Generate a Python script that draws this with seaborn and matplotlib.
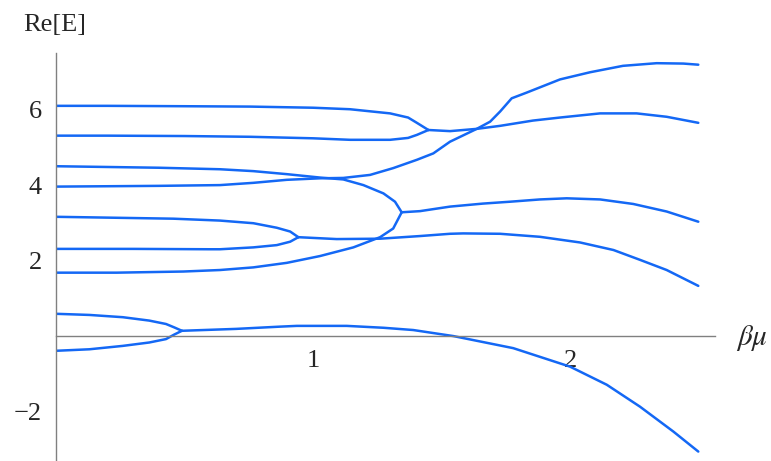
import pandas as pd
import numpy as np
import matplotlib
matplotlib.use("Agg")
import matplotlib.pyplot as plt
import seaborn as sns

sns.set_style("white")
plt.rcParams['font.family'] = ['Liberation Serif', 'DejaVu Serif']
plt.rcParams['mathtext.fontset'] = 'stix'

LINE_COLOR = '#1468f5'
AXIS_COLOR = '#808080'

# 各条能级分支 (beta*mu, Re[E])
top_upper_x = [0.0, 0.20, 0.50, 0.755, 1.00, 1.144, 1.30, 1.37, 1.404, 1.449]
top_upper_y = [6.11, 6.11, 6.10, 6.09, 6.06, 6.02, 5.91, 5.80, 5.66, 5.47]

top_lower_x = [0.0, 0.20, 0.50, 0.755, 1.00, 1.144, 1.30, 1.37, 1.404, 1.449]
top_lower_y = [5.32, 5.32, 5.31, 5.29, 5.25, 5.21, 5.21, 5.26, 5.34, 5.47]

top_merged_x = [1.449, 1.533, 1.637, 1.728, 1.856, 1.961, 2.117, 2.259, 2.376, 2.499]
top_merged_y = [5.47, 5.44, 5.50, 5.58, 5.72, 5.80, 5.91, 5.91, 5.82, 5.66]

upper_desc_x = [0.0, 0.40, 0.638, 0.768, 0.898, 1.027, 1.118, 1.196, 1.274, 1.319, 1.345]
upper_desc_y = [4.51, 4.47, 4.43, 4.38, 4.30, 4.21, 4.16, 4.01, 3.79, 3.57, 3.29]

upper_rise_x = [0.0, 0.40, 0.638, 0.768, 0.898, 1.027, 1.118, 1.222, 1.312, 1.404, 1.468,
                1.533, 1.637, 1.689, 1.728, 1.773, 1.831, 1.883, 1.961, 2.078, 2.206,
                2.337, 2.441, 2.499]
upper_rise_y = [3.97, 3.99, 4.01, 4.07, 4.15, 4.19, 4.20, 4.28, 4.46, 4.68, 4.85,
                5.16, 5.50, 5.69, 5.96, 6.31, 6.46, 6.60, 6.81, 7.00, 7.17,
                7.24, 7.23, 7.20]

mid_upper_x = [0.0, 0.184, 0.457, 0.638, 0.768, 0.859, 0.911, 0.943]
mid_upper_y = [3.17, 3.15, 3.12, 3.07, 3.00, 2.88, 2.78, 2.63]

mid_lower_x = [0.0, 0.30, 0.60, 0.638, 0.768, 0.859, 0.911, 0.943]
mid_lower_y = [2.32, 2.32, 2.31, 2.31, 2.36, 2.42, 2.51, 2.63]

mid_merged_x = [0.943, 1.092, 1.261, 1.416, 1.533, 1.584, 1.728, 1.883, 2.039, 2.169, 2.272, 2.376, 2.499]
mid_merged_y = [2.63, 2.58, 2.59, 2.66, 2.72, 2.73, 2.72, 2.64, 2.49, 2.29, 2.03, 1.76, 1.34]

low_rise_x = [0.0, 0.236, 0.495, 0.638, 0.768, 0.898, 1.027, 1.157, 1.261, 1.312, 1.345]
low_rise_y = [1.69, 1.69, 1.72, 1.76, 1.83, 1.95, 2.13, 2.36, 2.63, 2.86, 3.29]

low_merged_x = [1.345, 1.416, 1.533, 1.661, 1.767, 1.883, 1.987, 2.117, 2.246, 2.376, 2.499]
low_merged_y = [3.29, 3.32, 3.44, 3.52, 3.57, 3.63, 3.66, 3.63, 3.51, 3.31, 3.04]

ground_upper_x = [0.0, 0.130, 0.260, 0.363, 0.428, 0.460, 0.490]
ground_upper_y = [0.60, 0.57, 0.51, 0.42, 0.33, 0.24, 0.15]

ground_lower_x = [0.0, 0.130, 0.260, 0.363, 0.428, 0.460, 0.490]
ground_lower_y = [-0.38, -0.34, -0.25, -0.16, -0.07, 0.05, 0.15]

ground_merged_x = [0.490, 0.700, 0.872, 0.937, 1.131, 1.274, 1.390, 1.546, 1.779, 2.0,
                   2.143, 2.272, 2.402, 2.499]
ground_merged_y = [0.15, 0.20, 0.26, 0.28, 0.28, 0.23, 0.17, 0.01, -0.31, -0.80,
                   -1.28, -1.86, -2.52, -3.05]

x_ticks = [1, 2]
y_ticks = [-2, 2, 4, 6]

branches = {
    'top_upper': (top_upper_x, top_upper_y),
    'top_lower': (top_lower_x, top_lower_y),
    'top_merged': (top_merged_x, top_merged_y),
    'upper_desc': (upper_desc_x, upper_desc_y),
    'upper_rise': (upper_rise_x, upper_rise_y),
    'mid_upper': (mid_upper_x, mid_upper_y),
    'mid_lower': (mid_lower_x, mid_lower_y),
    'mid_merged': (mid_merged_x, mid_merged_y),
    'low_rise': (low_rise_x, low_rise_y),
    'low_merged': (low_merged_x, low_merged_y),
    'ground_upper': (ground_upper_x, ground_upper_y),
    'ground_lower': (ground_lower_x, ground_lower_y),
    'ground_merged': (ground_merged_x, ground_merged_y),
}

frames = []
for name, (xs, ys) in branches.items():
    frames.append(pd.DataFrame({'beta_mu': xs, 're_e': ys, 'branch': name}))
df = pd.concat(frames, ignore_index=True)

fig = plt.figure(figsize=(7.71, 4.61), dpi=100)
ax = fig.add_axes([56 / 771, 0, 659 / 771, 408 / 461])

sns.lineplot(data=df, x='beta_mu', y='re_e', units='branch', estimator=None,
             sort=False, color=LINE_COLOR, lw=1.8, ax=ax, legend=False)

ax.set_xlim(0, 2.564)
ax.set_ylim(-3.30, 7.51)

# Mathematica 风格坐标轴：x 轴穿过 y=0
ax.spines['bottom'].set_position(('data', 0))
ax.spines['top'].set_visible(False)
ax.spines['right'].set_visible(False)
for side in ['bottom', 'left']:
    ax.spines[side].set_color(AXIS_COLOR)
    ax.spines[side].set_linewidth(1.0)

ax.set_xticks(x_ticks)
ax.set_yticks(y_ticks)
ax.set_xticklabels([str(t) for t in x_ticks])
ax.set_yticklabels(['\u22122' if t < 0 else str(t) for t in y_ticks])
ax.tick_params(axis='both', direction='in', length=4, width=0.8,
               color=AXIS_COLOR, labelsize=19)
ax.tick_params(axis='x', pad=10)
ax.tick_params(axis='y', pad=10)
ax.set_xlabel('')
ax.set_ylabel('')

fig.text(23 / 771, 1 - 31 / 461, 'Re[E]', fontsize=19, ha='left', va='baseline')
fig.text(736 / 771, 1 - 345 / 461, r'$\beta\mu$', fontsize=21, ha='left', va='baseline')

fig.savefig('out.png', dpi=100)
